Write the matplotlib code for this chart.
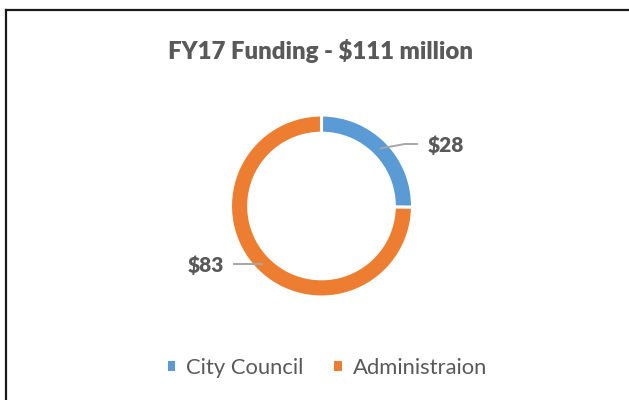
import matplotlib
matplotlib.use("Agg")
import matplotlib.pyplot as plt
from matplotlib.lines import Line2D
from matplotlib.patches import Patch
import numpy as np

categories = ["City Council", "Administraion"]
values = [28, 83]
labels = ["$28", "$83"]
colors = ["#5B9BD5", "#ED7D31"]
title = "FY17 Funding - $111 million"

plt.rcParams['font.family'] = ['Lato', 'DejaVu Sans']
TXT = "#595959"

W, H = 629, 400
fig = plt.figure(figsize=(W / 100, H / 100), dpi=100)
fig.patch.set_facecolor("white")

# chart border (top and left visible)
fig.add_artist(Line2D([6 / W, 6 / W], [0, 1 - 10 / H], transform=fig.transFigure,
                      color="#1a1a1a", lw=1.6))
fig.add_artist(Line2D([6 / W, 1], [1 - 10 / H, 1 - 10 / H], transform=fig.transFigure,
                      color="#1a1a1a", lw=1.6))

R = 91
cx, cy = 321.5, 206
half = 1.5 * R
ax = fig.add_axes([(cx - half) / W, (H - cy - half) / H, 2 * half / W, 2 * half / H])

wedges, _ = ax.pie(values, colors=colors, startangle=90, counterclock=False,
                   radius=1.0, wedgeprops=dict(width=0.2, edgecolor="white", linewidth=2.2))
ax.set_xlim(-1.5, 1.5)
ax.set_ylim(-1.5, 1.5)
ax.set_aspect("equal")
ax.axis("off")

def px(x, y):
    return (x - cx) / R, (cy - y) / R

total = sum(values)
start = 90
for i, (v, lab) in enumerate(zip(values, labels)):
    mid = np.deg2rad(start - v / total * 360 / 2)
    start -= v / total * 360
    r0 = 0.9
    x0, y0 = r0 * np.cos(mid), r0 * np.sin(mid)
    if np.cos(mid) > 0:
        xm, ym = px(405, 144)
        x1, y1 = px(418, 144)
        ax.plot([x0, xm, x1], [y0, ym, y1], color="#A6A6A6", lw=1.4,
                solid_capstyle="butt")
        tx, ty = px(428, 152)
        ax.text(tx, ty, lab, ha="left", va="baseline", fontsize=15,
                fontweight="heavy", color=TXT)
    else:
        x1, y1 = px(233, 264)
        ax.plot([x0, x1], [y0, y0], color="#A6A6A6", lw=1.4, solid_capstyle="butt")
        tx, ty = px(224, 272)
        ax.text(tx, ty, lab, ha="right", va="baseline", fontsize=15,
                fontweight="heavy", color=TXT)

fig.text(320.5 / W, 1 - 59 / H, title, ha="center", va="baseline", fontsize=17.3,
         fontweight="heavy", color=TXT)

handles = [Patch(facecolor=c, edgecolor="none") for c in colors]
leg = fig.legend(handles, categories, loc="center", bbox_to_anchor=(327.5 / W, 1 - 368 / H),
                 ncol=2, frameon=False, fontsize=15.8, handlelength=0.33, handleheight=0.33,
                 handletextpad=0.5, columnspacing=1.4, labelcolor=TXT)

fig.savefig("out.png", dpi=100, facecolor="white")
